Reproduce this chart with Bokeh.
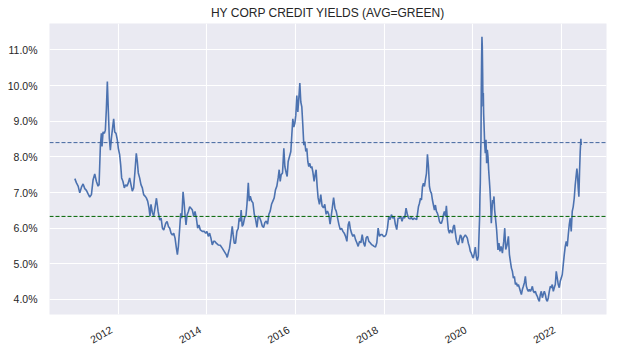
import math
import pandas as pd
from bokeh.plotting import figure
from bokeh.models import (ColumnDataSource, Range1d, FixedTicker, PrintfTickFormatter, Span)
from bokeh.embed import file_html
from bokeh.resources import INLINE

TITLE = "HY CORP CREDIT YIELDS (AVG=GREEN)"

# observation dates as decimal years
date_years = [
    2011.017, 2011.054, 2011.092, 2011.129, 2011.167, 2011.204, 2011.242, 2011.279, 2011.317, 2011.354,
    2011.392, 2011.430, 2011.467, 2011.505, 2011.542, 2011.565, 2011.595, 2011.617, 2011.632, 2011.655,
    2011.685, 2011.707, 2011.730, 2011.752, 2011.775, 2011.797, 2011.820, 2011.843, 2011.873, 2011.895,
    2011.918, 2011.948, 2011.978, 2012.000, 2012.030, 2012.053, 2012.075, 2012.105, 2012.135, 2012.165,
    2012.195, 2012.225, 2012.255, 2012.285, 2012.315, 2012.345, 2012.375, 2012.405, 2012.428, 2012.450,
    2012.480, 2012.510, 2012.541, 2012.571, 2012.601, 2012.631, 2012.661, 2012.691, 2012.713, 2012.736,
    2012.766, 2012.796, 2012.826,
    2012.859, 2012.897, 2012.934, 2012.964, 2012.994, 2013.024, 2013.069, 2013.099, 2013.129, 2013.159,
    2013.189, 2013.219, 2013.249, 2013.279, 2013.309, 2013.332, 2013.354, 2013.384, 2013.407, 2013.430,
    2013.460, 2013.482, 2013.505, 2013.527, 2013.550, 2013.580, 2013.610, 2013.640, 2013.670, 2013.700,
    2013.730, 2013.760, 2013.790, 2013.820, 2013.850, 2013.895, 2013.940, 2013.970, 2014.000, 2014.030,
    2014.060, 2014.090, 2014.120, 2014.150, 2014.180, 2014.210, 2014.255, 2014.300, 2014.345, 2014.390,
    2014.435, 2014.458, 2014.480, 2014.510, 2014.541, 2014.571, 2014.593, 2014.616, 2014.646, 2014.676,
    2014.706, 2014.728, 2014.751, 2014.773, 2014.796,
    2014.821, 2014.851, 2014.881, 2014.904, 2014.934, 2014.956, 2014.979, 2015.009, 2015.039, 2015.069,
    2015.099, 2015.129, 2015.159, 2015.189, 2015.219, 2015.249, 2015.279, 2015.309, 2015.339, 2015.369,
    2015.399, 2015.429, 2015.459, 2015.489, 2015.519, 2015.549, 2015.579, 2015.609, 2015.632, 2015.655,
    2015.677, 2015.707, 2015.737, 2015.760, 2015.790, 2015.812, 2015.835, 2015.865, 2015.895, 2015.917,
    2015.940, 2015.962, 2015.985, 2016.008, 2016.030, 2016.053, 2016.075, 2016.098, 2016.120, 2016.143,
    2016.165, 2016.188, 2016.210, 2016.233, 2016.255, 2016.278, 2016.300, 2016.323, 2016.345, 2016.368,
    2016.390, 2016.420, 2016.443, 2016.465, 2016.488, 2016.510, 2016.540, 2016.570, 2016.600, 2016.630,
    2016.660, 2016.690, 2016.720, 2016.750, 2016.780,
    2016.829, 2016.859, 2016.889, 2016.919, 2016.949, 2016.979, 2017.009, 2017.039, 2017.069, 2017.099,
    2017.129, 2017.159, 2017.189, 2017.212, 2017.234, 2017.264, 2017.294, 2017.324, 2017.354, 2017.384,
    2017.414, 2017.444, 2017.475, 2017.505, 2017.535, 2017.565, 2017.595, 2017.625, 2017.655, 2017.685,
    2017.715, 2017.745, 2017.775, 2017.805, 2017.835, 2017.865, 2017.895, 2017.925, 2017.955, 2017.985,
    2018.015, 2018.045, 2018.075, 2018.105, 2018.135, 2018.165, 2018.195, 2018.225, 2018.255, 2018.285,
    2018.315, 2018.345, 2018.375, 2018.405, 2018.435, 2018.465, 2018.496, 2018.526, 2018.556, 2018.586,
    2018.616, 2018.646, 2018.676, 2018.706, 2018.736,
    2018.777, 2018.799, 2018.822, 2018.844, 2018.867, 2018.889, 2018.912, 2018.934, 2018.957, 2018.979,
    2019.002, 2019.024, 2019.047, 2019.069, 2019.092, 2019.114, 2019.137, 2019.159, 2019.182, 2019.204,
    2019.227, 2019.250, 2019.272, 2019.295, 2019.317, 2019.340, 2019.362, 2019.385, 2019.407, 2019.430,
    2019.452, 2019.475, 2019.497, 2019.520, 2019.542, 2019.565, 2019.587, 2019.610, 2019.632, 2019.655,
    2019.677, 2019.700, 2019.723, 2019.745, 2019.768, 2019.790, 2019.813, 2019.835, 2019.858, 2019.880,
    2019.903, 2019.925, 2019.948, 2019.970, 2019.993, 2020.015, 2020.038, 2020.060, 2020.083, 2020.105,
    2020.128, 2020.143, 2020.158, 2020.165, 2020.173, 2020.180, 2020.188, 2020.195, 2020.203, 2020.210,
    2020.218, 2020.226, 2020.233, 2020.241, 2020.248, 2020.256, 2020.271, 2020.286, 2020.301, 2020.316,
    2020.331, 2020.346, 2020.361, 2020.376, 2020.391, 2020.406, 2020.421, 2020.436, 2020.451, 2020.466,
    2020.481, 2020.496, 2020.511, 2020.526, 2020.541, 2020.556, 2020.571, 2020.593, 2020.616,
    2020.641, 2020.671, 2020.701, 2020.724, 2020.746, 2020.776, 2020.806, 2020.829, 2020.851, 2020.874,
    2020.896, 2020.919, 2020.941, 2020.964, 2020.986, 2021.009, 2021.031, 2021.054, 2021.076, 2021.099,
    2021.121, 2021.144, 2021.167, 2021.189, 2021.212, 2021.234, 2021.257, 2021.279, 2021.302, 2021.324,
    2021.347, 2021.369, 2021.392, 2021.414, 2021.437, 2021.459, 2021.482, 2021.504, 2021.527, 2021.549,
    2021.572, 2021.594, 2021.617, 2021.640, 2021.662, 2021.685, 2021.707, 2021.730, 2021.752, 2021.775,
    2021.797, 2021.820, 2021.842, 2021.865, 2021.887, 2021.910, 2021.932, 2021.955, 2021.977, 2022.000,
    2022.023, 2022.045, 2022.068, 2022.090, 2022.113, 2022.135, 2022.158, 2022.180, 2022.203, 2022.225,
    2022.248, 2022.270, 2022.293, 2022.315, 2022.338, 2022.353, 2022.368, 2022.383, 2022.398, 2022.413,
    2022.428, 2022.443, 2022.450,
]

# HY corporate credit yield, percent
yield_pct = [
    7.39, 7.27, 7.18, 6.99, 7.15, 7.24, 7.11, 7.06, 6.96, 6.87,
    6.94, 7.36, 7.52, 7.31, 7.18, 7.22, 8.33, 8.66, 8.29, 8.70,
    8.66, 8.75, 9.35, 10.11, 9.26, 8.52, 8.19, 8.52, 8.84, 9.07,
    8.70, 8.66, 8.47, 8.24, 8.06, 7.78, 7.41, 7.31, 7.13, 7.22,
    7.18, 7.27, 7.41, 7.22, 7.04, 7.13, 7.59, 8.10, 7.87, 7.55,
    7.41, 7.22, 7.13, 6.94, 6.90, 6.85, 6.76, 6.57, 6.34, 6.67,
    6.44, 6.34, 6.57,
    6.84, 6.47, 6.23, 6.28, 6.00, 5.95, 6.14, 6.19, 6.05, 6.00,
    5.86, 5.81, 5.86, 5.72, 5.44, 5.26, 5.49, 6.00, 6.42, 6.28,
    7.02, 6.74, 6.37, 6.09, 6.37, 6.47, 6.60, 6.56, 6.51, 6.33,
    6.47, 6.28, 6.00, 6.09, 5.95, 5.91, 5.91, 5.86, 5.91, 5.77,
    5.86, 5.72, 5.53, 5.63, 5.63, 5.58, 5.53, 5.52, 5.44, 5.35,
    5.26, 5.18, 5.30, 5.44, 5.72, 6.05, 5.81, 5.58, 5.58, 5.91,
    6.00, 6.28, 6.19, 6.51, 6.05,
    6.11, 6.30, 6.34, 6.67, 7.27, 6.76, 6.90, 6.76, 6.71, 6.39,
    6.25, 6.02, 6.34, 6.30, 6.20, 6.06, 6.02, 6.16, 6.20, 6.11,
    6.39, 6.48, 6.67, 6.76, 6.85, 7.08, 7.18, 7.41, 7.64, 7.31,
    7.50, 7.55, 8.24, 7.73, 7.55, 7.45, 7.87, 8.01, 8.15, 8.61,
    9.07, 8.84, 8.94, 9.17, 9.72, 9.26, 9.63, 10.07, 9.54, 9.40,
    8.90, 8.33, 8.43, 8.15, 8.24, 7.87, 7.73, 7.82, 7.69, 7.73,
    7.59, 7.31, 7.50, 7.64, 7.18, 6.85, 6.67, 6.94, 6.62, 6.57,
    6.67, 6.39, 6.48, 6.39, 6.11,
    6.56, 6.86, 6.56, 6.47, 6.28, 6.10, 5.96, 6.00, 5.91, 5.86,
    5.77, 5.63, 6.10, 6.19, 6.00, 5.86, 5.77, 5.82, 5.68, 5.59,
    5.49, 5.63, 5.59, 5.82, 5.59, 5.49, 5.73, 5.77, 5.63, 5.59,
    5.54, 5.52, 5.49, 5.47, 5.59, 6.00, 5.77, 5.82, 5.82, 5.77,
    5.77, 5.82, 6.00, 6.33, 6.24, 6.38, 6.28, 6.33, 6.10, 5.96,
    6.28, 6.28, 6.33, 6.19, 6.33, 6.28, 6.56, 6.38, 6.28, 6.26,
    6.30, 6.24, 6.28, 6.26, 6.24,
    6.61, 6.70, 6.84, 6.79, 7.17, 7.26, 7.17, 7.36, 7.54, 8.07,
    7.73, 7.17, 7.03, 6.98, 6.79, 6.65, 6.51, 6.65, 6.47, 6.42,
    6.33, 6.19, 6.14, 6.14, 6.23, 6.37, 6.47, 6.33, 6.63, 6.23,
    5.95, 5.86, 5.95, 5.91, 5.86, 6.05, 6.09, 5.86, 5.67, 5.58,
    5.53, 5.67, 5.81, 5.77, 5.58, 5.72, 5.77, 5.81, 5.77, 5.72,
    5.58, 5.49, 5.35, 5.30, 5.21, 5.16, 5.30, 5.47, 5.21, 5.09,
    5.21, 5.77, 6.33, 6.89, 7.26, 8.01, 8.48, 9.88, 10.81, 11.37,
    11.09, 10.35, 9.41, 9.79, 9.22, 8.94, 8.38, 8.10, 8.48, 7.82,
    8.20, 8.01, 7.64, 7.36, 7.07, 6.70, 6.14, 6.51, 6.79, 6.70,
    6.89, 6.51, 6.33, 6.14, 5.95, 5.67, 5.39, 5.58, 5.35,
    5.49, 5.30, 5.63, 6.00, 5.40, 5.53, 5.77, 5.26, 5.07, 4.88,
    4.79, 4.60, 4.65, 4.42, 4.47, 4.37, 4.42, 4.33, 4.23, 4.14,
    4.28, 4.37, 4.47, 4.65, 4.37, 4.28, 4.23, 4.28, 4.23, 4.28,
    4.37, 4.23, 4.19, 4.23, 4.14, 4.09, 4.00, 3.95, 4.14, 4.23,
    4.05, 4.14, 4.23, 4.14, 4.00, 3.95, 4.05, 4.23, 4.37, 4.33,
    4.42, 4.23, 4.33, 4.42, 4.79, 4.60, 4.42, 4.33, 4.51, 4.60,
    4.70, 4.98, 5.26, 5.49, 5.63, 5.49, 5.81, 6.09, 6.28, 5.91,
    6.47, 6.60, 6.84, 7.21, 7.49, 7.67, 7.49, 7.12, 6.88, 7.58,
    8.14, 8.51, 8.33,
]

avg_yield = 6.33      # green dashed line (average)
upper_yield = 8.40    # blue dashed line

x_tick_years = [2012, 2014, 2016, 2018, 2020, 2022]
x_tick_labels = ["2012", "2014", "2016", "2018", "2020", "2022"]
y_ticks = [4, 5, 6, 7, 8, 9, 10, 11]

W, H = 619, 352
BORDER_L, BORDER_R = 49, 13


def year_to_ms(d):
    y = int(d)
    start = pd.Timestamp(year=y, month=1, day=1)
    end = pd.Timestamp(year=y + 1, month=1, day=1)
    ts = start + (end - start) * (d - y)
    return ts.value / 1e6


xs = [year_to_ms(d) for d in date_years]
src = ColumnDataSource(data=dict(x=xs, y=yield_pct))

xspan = max(xs) - min(xs)
yspan = max(yield_pct) - min(yield_pct)
x0 = min(xs) - 0.05 * xspan
x1 = max(xs) + 0.05 * xspan
y0 = min(yield_pct) - 0.05 * yspan
y1 = max(yield_pct) + 0.05 * yspan

p = figure(width=W, height=H, x_axis_type="datetime",
           output_backend="svg", toolbar_location=None,
           x_range=Range1d(x0, x1), y_range=Range1d(y0, y1),
           min_border_left=BORDER_L, min_border_right=BORDER_R,
           min_border_top=22, min_border_bottom=38)

p.title.text = TITLE
p.title.align = "center"
p.title.text_font = "Liberation Sans"
p.title.text_font_size = "12px"
p.title.text_font_style = "normal"
p.title.text_color = "#262626"
p.title.standoff = 7

p.background_fill_color = "#EAEAF2"
p.border_fill_color = "white"
p.outline_line_color = None

p.grid.grid_line_color = "white"
p.grid.grid_line_width = 1.1

for ax in (p.xaxis, p.yaxis):
    ax.axis_line_color = None
    ax.major_tick_line_color = None
    ax.minor_tick_line_color = None
    ax.major_tick_in = 0
    ax.major_tick_out = 0
    ax.major_label_text_font = "Liberation Sans"
    ax.major_label_text_font_size = "10.5px"
    ax.major_label_text_color = "#262626"

p.yaxis.ticker = FixedTicker(ticks=y_ticks)
p.yaxis.formatter = PrintfTickFormatter(format="%.1f%%")
p.yaxis.major_label_standoff = 12

# vertical grid lines at Jan 1 of the even years
x_tick_ms = [year_to_ms(y) for y in x_tick_years]
p.xgrid.ticker = FixedTicker(ticks=x_tick_ms)

# rotated year labels: right end of each label sits just left of its grid line
ms_per_px = (x1 - x0) / (W - BORDER_L - BORDER_R)
label_shift = -7 * ms_per_px
label_pos = [t + label_shift for t in x_tick_ms]
p.xaxis.ticker = FixedTicker(ticks=label_pos)
p.xaxis.major_label_overrides = {pos: lab for pos, lab in zip(label_pos, x_tick_labels)}
p.xaxis.major_label_orientation = math.pi / 6
p.xaxis.major_label_standoff = 14

p.line("x", "y", source=src, line_color="#4C72B0", line_width=1.6)

p.add_layout(Span(location=upper_yield, dimension="width", line_color="#41649e",
                  line_dash="4 2", line_width=1))
p.add_layout(Span(location=avg_yield, dimension="width", line_color="#006400",
                  line_dash="4 2", line_width=1))

open("out.html", "w").write(file_html(p, INLINE))
